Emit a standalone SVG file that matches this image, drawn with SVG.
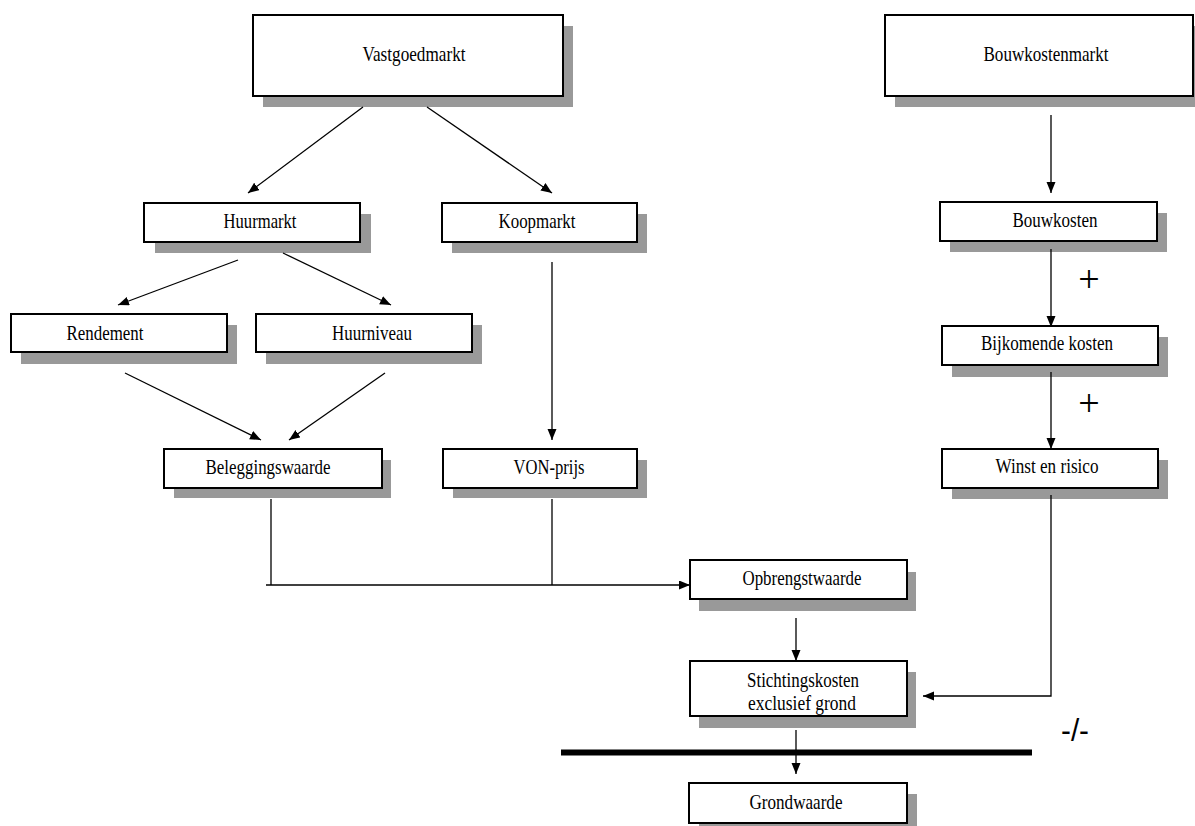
<svg xmlns="http://www.w3.org/2000/svg" width="1195" height="826" viewBox="0 0 1195 826">
<style>
.sh{fill:#999999;stroke:none}
.bx{fill:#ffffff;stroke:#000000;stroke-width:2}
.t{font-family:'Liberation Serif','DejaVu Serif',serif;font-size:21px;fill:#000000;text-anchor:middle}
.c{fill:none;stroke:#000000;stroke-width:1.3}
.plus{font-family:'Liberation Serif','DejaVu Serif',serif;font-size:38px;fill:#000000;text-anchor:middle}
.neg{font-family:'Liberation Sans',Arial,sans-serif;font-size:32px;fill:#000000;text-anchor:middle}
</style>
<defs>
<marker id="ah" markerUnits="userSpaceOnUse" markerWidth="12" markerHeight="10" refX="11" refY="4.5" orient="auto">
<path d="M0,0 L11,4.5 L0,9 z" fill="#000000"/>
</marker>
</defs>
<rect width="1195" height="826" fill="#ffffff"/>

<g id="vastgoedmarkt">
<rect class="sh" x="263" y="26" width="310" height="81"/>
<rect class="bx" x="253" y="15" width="310" height="81"/>
<text class="t" x="414" y="61" textLength="103" lengthAdjust="spacingAndGlyphs">Vastgoedmarkt</text>
</g>
<g id="bouwkostenmarkt">
<rect class="sh" x="895" y="26" width="308" height="81"/>
<rect class="bx" x="885" y="15" width="308" height="81"/>
<text class="t" x="1046" y="61" textLength="125" lengthAdjust="spacingAndGlyphs">Bouwkostenmarkt</text>
</g>
<g id="huurmarkt">
<rect class="sh" x="155" y="214" width="216" height="39"/>
<rect class="bx" x="144" y="203" width="216" height="39"/>
<text class="t" x="260" y="228" textLength="73" lengthAdjust="spacingAndGlyphs">Huurmarkt</text>
</g>
<g id="koopmarkt">
<rect class="sh" x="452" y="214" width="195" height="39"/>
<rect class="bx" x="442" y="203" width="195" height="39"/>
<text class="t" x="537" y="228" textLength="77" lengthAdjust="spacingAndGlyphs">Koopmarkt</text>
</g>
<g id="bouwkosten">
<rect class="sh" x="950" y="213" width="217" height="39"/>
<rect class="bx" x="940" y="202" width="217" height="39"/>
<text class="t" x="1055" y="227" textLength="85" lengthAdjust="spacingAndGlyphs">Bouwkosten</text>
</g>
<g id="rendement">
<rect class="sh" x="21" y="325" width="216" height="39"/>
<rect class="bx" x="11" y="314" width="216" height="38"/>
<text class="t" x="105" y="340" textLength="77" lengthAdjust="spacingAndGlyphs">Rendement</text>
</g>
<g id="huurniveau">
<rect class="sh" x="266" y="325" width="216" height="39"/>
<rect class="bx" x="256" y="314" width="216" height="38"/>
<text class="t" x="372" y="340" textLength="80" lengthAdjust="spacingAndGlyphs">Huurniveau</text>
</g>
<g id="bijkomende-kosten">
<rect class="sh" x="952" y="337" width="216" height="40"/>
<rect class="bx" x="942" y="326" width="216" height="39"/>
<text class="t" x="1047" y="350" textLength="132" lengthAdjust="spacingAndGlyphs">Bijkomende kosten</text>
</g>
<g id="beleggingswaarde">
<rect class="sh" x="174" y="460" width="217" height="38"/>
<rect class="bx" x="164" y="449" width="218" height="39"/>
<text class="t" x="268" y="474" textLength="125" lengthAdjust="spacingAndGlyphs">Beleggingswaarde</text>
</g>
<g id="von-prijs">
<rect class="sh" x="453" y="460" width="194" height="38"/>
<rect class="bx" x="443" y="449" width="194" height="39"/>
<text class="t" x="549" y="474" textLength="71" lengthAdjust="spacingAndGlyphs">VON-prijs</text>
</g>
<g id="winst-en-risico">
<rect class="sh" x="952" y="460" width="216" height="39"/>
<rect class="bx" x="942" y="449" width="216" height="39"/>
<text class="t" x="1047" y="473" textLength="103" lengthAdjust="spacingAndGlyphs">Winst en risico</text>
</g>
<g id="opbrengstwaarde">
<rect class="sh" x="699" y="572" width="217" height="39"/>
<rect class="bx" x="690" y="560" width="217" height="39"/>
<text class="t" x="802" y="585" textLength="119" lengthAdjust="spacingAndGlyphs">Opbrengstwaarde</text>
</g>
<g id="stichtingskosten">
<rect class="sh" x="699" y="672" width="217" height="56"/>
<rect class="bx" x="690" y="661" width="217" height="55"/>
<text class="t" x="803" y="687" textLength="112" lengthAdjust="spacingAndGlyphs">Stichtingskosten</text>
<text class="t" x="802" y="710" textLength="108" lengthAdjust="spacingAndGlyphs">exclusief grond</text>
</g>
<g id="grondwaarde">
<rect class="sh" x="699" y="794" width="218" height="40"/>
<rect class="bx" x="689" y="783" width="218" height="40"/>
<text class="t" x="796" y="809" textLength="93" lengthAdjust="spacingAndGlyphs">Grondwaarde</text>
</g>

<g id="connectors">
<line class="c" x1="363" y1="107" x2="248" y2="193" marker-end="url(#ah)"/>
<line class="c" x1="427" y1="107" x2="552" y2="193" marker-end="url(#ah)"/>
<line class="c" x1="1051" y1="115" x2="1051" y2="193" marker-end="url(#ah)"/>
<line class="c" x1="238" y1="260" x2="118" y2="305" marker-end="url(#ah)"/>
<line class="c" x1="283" y1="253" x2="391" y2="305" marker-end="url(#ah)"/>
<line class="c" x1="125" y1="373" x2="261" y2="440" marker-end="url(#ah)"/>
<line class="c" x1="385" y1="373" x2="289" y2="440" marker-end="url(#ah)"/>
<line class="c" x1="552" y1="262" x2="552" y2="440" marker-end="url(#ah)"/>
<line class="c" x1="1051" y1="249" x2="1051" y2="327" marker-end="url(#ah)"/>
<line class="c" x1="1051" y1="372" x2="1051" y2="449" marker-end="url(#ah)"/>
<line class="c" x1="271" y1="499" x2="271" y2="585"/>
<line class="c" x1="552" y1="499" x2="552" y2="585"/>
<line class="c" x1="266" y1="585" x2="690" y2="585" marker-end="url(#ah)"/>
<line class="c" x1="796" y1="618" x2="796" y2="661" marker-end="url(#ah)"/>
<polyline class="c" points="1051,495 1051,696 923,696" marker-end="url(#ah)"/>
<line class="c" x1="796" y1="730" x2="796" y2="774" marker-end="url(#ah)"/>
<line x1="561" y1="752.5" x2="1032" y2="752.5" stroke="#000000" stroke-width="6"/>
</g>

<text class="plus" x="1089" y="292">+</text>
<text class="plus" x="1089" y="416">+</text>
<text class="neg" x="1075" y="741" textLength="28" lengthAdjust="spacingAndGlyphs">-/-</text>
</svg>
